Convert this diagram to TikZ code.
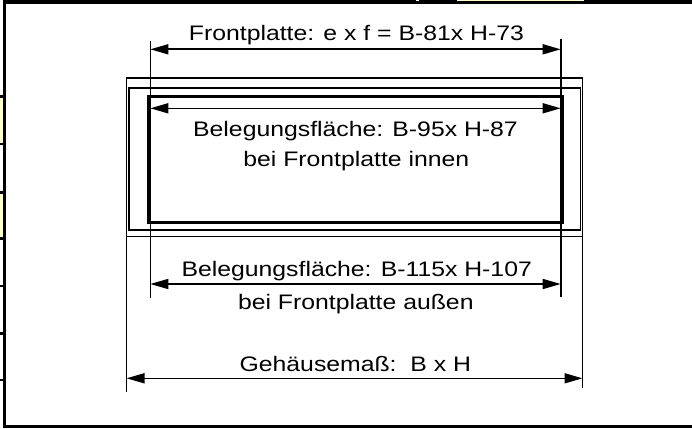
\documentclass[tikz,border=0pt]{standalone}
\usepackage{fontspec}
\setmainfont{Liberation Sans}[FakeStretch=1.18]
\usetikzlibrary{arrows.meta}
\definecolor{cellyellow}{HTML}{FFFFCC}
\begin{document}
\begin{tikzpicture}[x=1pt,y=-1pt,
  dimline/.style={line width=1.6pt,{Triangle[length=18pt,width=10pt]}-{Triangle[length=18pt,width=10pt]}},
  extline/.style={line width=1.6pt},
  housing/.style={line width=1.6pt,draw=black},
  panel/.style={line width=3pt},
  lbl/.style={anchor=base,inner sep=0pt,font=\fontsize{21}{25}\selectfont}]
\useasboundingbox (0,0) rectangle (692,428);
% frame (fragment of surrounding table)
\fill (3.4,0) rectangle (692,4.1);
\fill (3.4,0) rectangle (6.0,428);
\fill (3.4,425) rectangle (692,428);
\fill[white] (415.7,0) rectangle (419,1.3);
\fill[white] (456.7,0) rectangle (460,1.3);
\fill[cellyellow] (460,0) rectangle (581,1.3);
\fill[white] (581,0) rectangle (584.3,1.3);
\fill[cellyellow] (0,97) rectangle (3.4,144);
\fill[cellyellow] (0,193) rectangle (3.4,239);
\foreach \yy in {96.7,144,192.7,238.7,286,333.3,380}
  \fill (0,\yy-1.3) rectangle (4,\yy+1.3);
% housing (double line) and front panel
\draw[housing] (126.5,78) rectangle (582.5,236.5);
\draw[housing] (128.8,88) rectangle (580.5,230);
\draw[panel] (148,96.2) rectangle (562.6,222.3);
% extension lines
\coordinate (eLt) at (150.3,41);
\coordinate (eLb) at (150.3,298);
\coordinate (eRt) at (560.7,39);
\coordinate (eRb) at (560.7,297);
\coordinate (gLt) at (126.5,236.5);
\coordinate (gLb) at (126.5,391.5);
\coordinate (gRt) at (582.5,236.5);
\coordinate (gRb) at (582.5,388);
\draw[extline] (eLt) -- (eLb);
\draw[extline] (eRt) -- (eRb);
\draw[extline] (gLt) -- (gLb);
\draw[extline] (gRt) -- (gRb);
% dimension lines
\coordinate (fa) at (150.3,49.3);
\coordinate (fb) at (560.7,49.3);
\coordinate (ia) at (150.3,108.3);
\coordinate (ib) at (560.7,108.3);
\coordinate (oa) at (150.3,284);
\coordinate (ob) at (560.7,284);
\coordinate (ga) at (126.5,378.3);
\coordinate (gb) at (582.5,378.3);
\draw[dimline] (fa) -- (fb);
\draw[dimline] (ia) -- (ib);
\draw[dimline] (oa) -- (ob);
\draw[dimline] (ga) -- (gb);
% labels
\node[lbl] (tfront) at (356.4,41) {Frontplatte: e x f = B-81x H-73};
\node[lbl] (tin1) at (355.5,136.5) {Belegungsfläche: B-95x H-87};
\node[lbl] (tin2) at (356.3,166.5) {bei Frontplatte innen};
\node[lbl] (tout1) at (356.7,276.5) {Belegungsfläche: B-115x H-107};
\node[lbl] (tout2) at (355.8,309) {bei Frontplatte außen};
\node[lbl] (tgeh) at (355.3,371.5) {Gehäusemaß:\ \ B x H};
\end{tikzpicture}
\end{document}
